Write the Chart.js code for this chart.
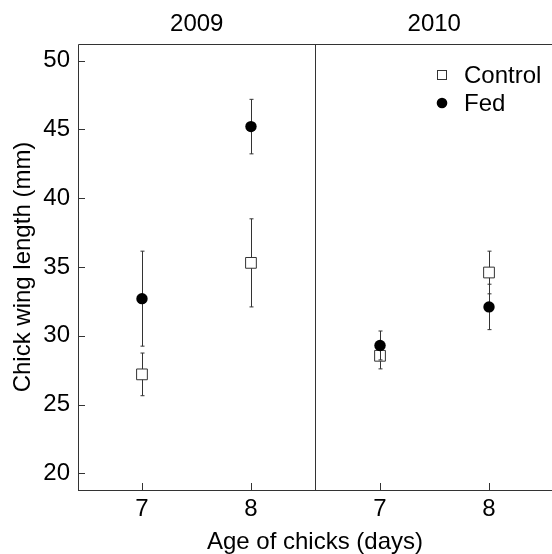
<!DOCTYPE html>
<html>
<head>
<meta charset="utf-8">
<script src="https://cdn.jsdelivr.net/npm/chart.js@4.4.1/dist/chart.umd.min.js"></script>
<style>
  html, body { margin: 0; padding: 0; background: #fff; overflow: hidden; }
  #grafico { display: block; }
</style>
</head>
<body>
<canvas id="grafico" width="552" height="554"></canvas>
<script>
// datos //
const anios = ["2009", "2010"];
const edades = [7, 8];
const grupos = ["Control", "Fed"];

// medias por anio: [dia 7, dia 8]
const mediaControl = [[27.2, 35.3], [28.55, 34.6]];
const errorControl = [[1.55, 3.2], [0.95, 1.55]];
const mediaFed = [[32.7, 45.2], [29.3, 32.1]];
const errorFed = [[3.45, 1.98], [1.05, 1.65]];

const ticksY = [20, 25, 30, 35, 40, 45, 50];

// eje x continuo: el segundo panel se desplaza
const desplazamiento = 2.184;
const xMin = 6.413;
const divisor = 8.592;
const xMax = 10.762;

const fuente = "'Liberation Sans', Arial, Helvetica, sans-serif";

function puntos(medias, errores) {
  const salida = [];
  anios.forEach((anio, a) => {
    edades.forEach((edad, e) => {
      salida.push({ x: edad + a * desplazamiento, y: medias[a][e], err: errores[a][e] });
    });
  });
  return salida;
}

const ticksX = [];
anios.forEach((anio, a) => edades.forEach(edad => ticksX.push(edad + a * desplazamiento)));

const marcoPlugin = {
  id: "marco",
  beforeDatasetDraw(chart, args) {
    // barras de error de cada grupo //
    const ctx = chart.ctx;
    const x = chart.scales.x;
    const y = chart.scales.y;
    const ds = chart.data.datasets[args.index];
    ctx.save();
    ctx.strokeStyle = "#333";
    ctx.lineWidth = 1;
    ds.data.forEach(p => {
      const px = Math.round(x.getPixelForValue(p.x)) + 0.5;
      const y1 = y.getPixelForValue(p.y + p.err);
      const y2 = y.getPixelForValue(p.y - p.err);
      ctx.beginPath();
      ctx.moveTo(px, y1);
      ctx.lineTo(px, y2);
      ctx.moveTo(px - 2, y1);
      ctx.lineTo(px + 2, y1);
      ctx.moveTo(px - 2, y2);
      ctx.lineTo(px + 2, y2);
      ctx.stroke();
    });
    ctx.restore();
  },
  afterDraw(chart) {
    const ctx = chart.ctx;
    const area = chart.chartArea;
    const x = chart.scales.x;
    const y = chart.scales.y;
    ctx.save();
    ctx.strokeStyle = "#333";
    ctx.lineWidth = 1;

    // borde y divisor //
    ctx.beginPath();
    ctx.moveTo(area.left + 0.5, area.bottom + 0.5);
    ctx.lineTo(area.left + 0.5, area.top + 0.5);
    ctx.lineTo(area.right, area.top + 0.5);
    ctx.moveTo(area.left, area.bottom + 0.5);
    ctx.lineTo(area.right, area.bottom + 0.5);
    const xd = Math.round(x.getPixelForValue(divisor)) + 0.5;
    ctx.moveTo(xd, area.top);
    ctx.lineTo(xd, area.bottom);

    // marcas hacia dentro //
    ticksY.forEach(v => {
      const py = Math.round(y.getPixelForValue(v)) + 0.5;
      ctx.moveTo(area.left, py);
      ctx.lineTo(area.left + 7, py);
    });
    ticksX.forEach(v => {
      const px = Math.round(x.getPixelForValue(v)) + 0.5;
      ctx.moveTo(px, area.bottom);
      ctx.lineTo(px, area.bottom - 7);
    });
    ctx.stroke();

    // titulos de panel //
    ctx.fillStyle = "#000";
    ctx.font = "24px " + fuente;
    ctx.textAlign = "center";
    ctx.textBaseline = "middle";
    ctx.fillText(anios[0], (area.left + xd) / 2, 24);
    ctx.fillText(anios[1], (xd + x.getPixelForValue(divisor + (divisor - xMin))) / 2, 24);

    // leyenda //
    const lx = 442;
    ctx.fillStyle = "#fff";
    ctx.fillRect(437, 70, 10, 10);
    ctx.strokeRect(437.5, 70.5, 9, 9);
    ctx.fillStyle = "#000";
    ctx.beginPath();
    ctx.arc(lx, 103, 5.3, 0, Math.PI * 2);
    ctx.fill();
    ctx.textAlign = "left";
    ctx.fillText(grupos[0], 464, 76);
    ctx.fillText(grupos[1], 464, 104);
    ctx.restore();
  }
};

new Chart(document.getElementById("grafico"), {
  type: "scatter",
  data: {
    datasets: [
      {
        label: grupos[0],
        data: puntos(mediaControl, errorControl),
        pointStyle: "rect",
        pointRadius: 7.6,
        pointHoverRadius: 7.6,
        backgroundColor: "#fff",
        borderColor: "#333",
        borderWidth: 1,
        order: 2
      },
      {
        label: grupos[1],
        data: puntos(mediaFed, errorFed),
        pointStyle: "circle",
        pointRadius: 5.7,
        pointHoverRadius: 5.7,
        backgroundColor: "#000",
        borderColor: "#000",
        borderWidth: 0,
        order: 1
      }
    ]
  },
  options: {
    responsive: false,
    animation: false,
    devicePixelRatio: 1,
    layout: { autoPadding: false, padding: { top: 44, left: 0, right: 0, bottom: 0 } },
    plugins: {
      legend: { display: false },
      tooltip: { enabled: false }
    },
    scales: {
      x: {
        type: "linear",
        min: xMin,
        max: xMax,
        afterFit(scale) {
          scale.height = 64;
          scale.paddingLeft = 0;
          scale.paddingRight = 0;
        },
        afterBuildTicks(scale) { scale.ticks = ticksX.map(v => ({ value: v })); },
        grid: { display: false, drawTicks: false },
        border: { display: false },
        ticks: {
          color: "#000",
          padding: 5,
          maxRotation: 0,
          autoSkip: false,
          font: { family: fuente, size: 24 },
          callback: v => String(Math.round(v > divisor ? v - desplazamiento : v))
        },
        title: {
          display: true,
          text: "Age of chicks (days)",
          color: "#000",
          padding: { top: 0, bottom: 0 },
          font: { family: fuente, size: 24, lineHeight: 1 }
        }
      },
      y: {
        min: 18.8,
        max: 51.2,
        afterFit(scale) {
          scale.width = 78;
          scale.paddingTop = 0;
          scale.paddingBottom = 0;
        },
        afterBuildTicks(scale) { scale.ticks = ticksY.map(v => ({ value: v })); },
        grid: { display: false, drawTicks: false },
        border: { display: false },
        ticks: {
          color: "#000",
          padding: 8,
          font: { family: fuente, size: 24 }
        },
        title: {
          display: true,
          text: "Chick wing length (mm)",
          color: "#000",
          padding: { top: 11, bottom: 0 },
          font: { family: fuente, size: 24, lineHeight: 1 }
        }
      }
    }
  },
  plugins: [marcoPlugin]
});
</script>
</body>
</html>
